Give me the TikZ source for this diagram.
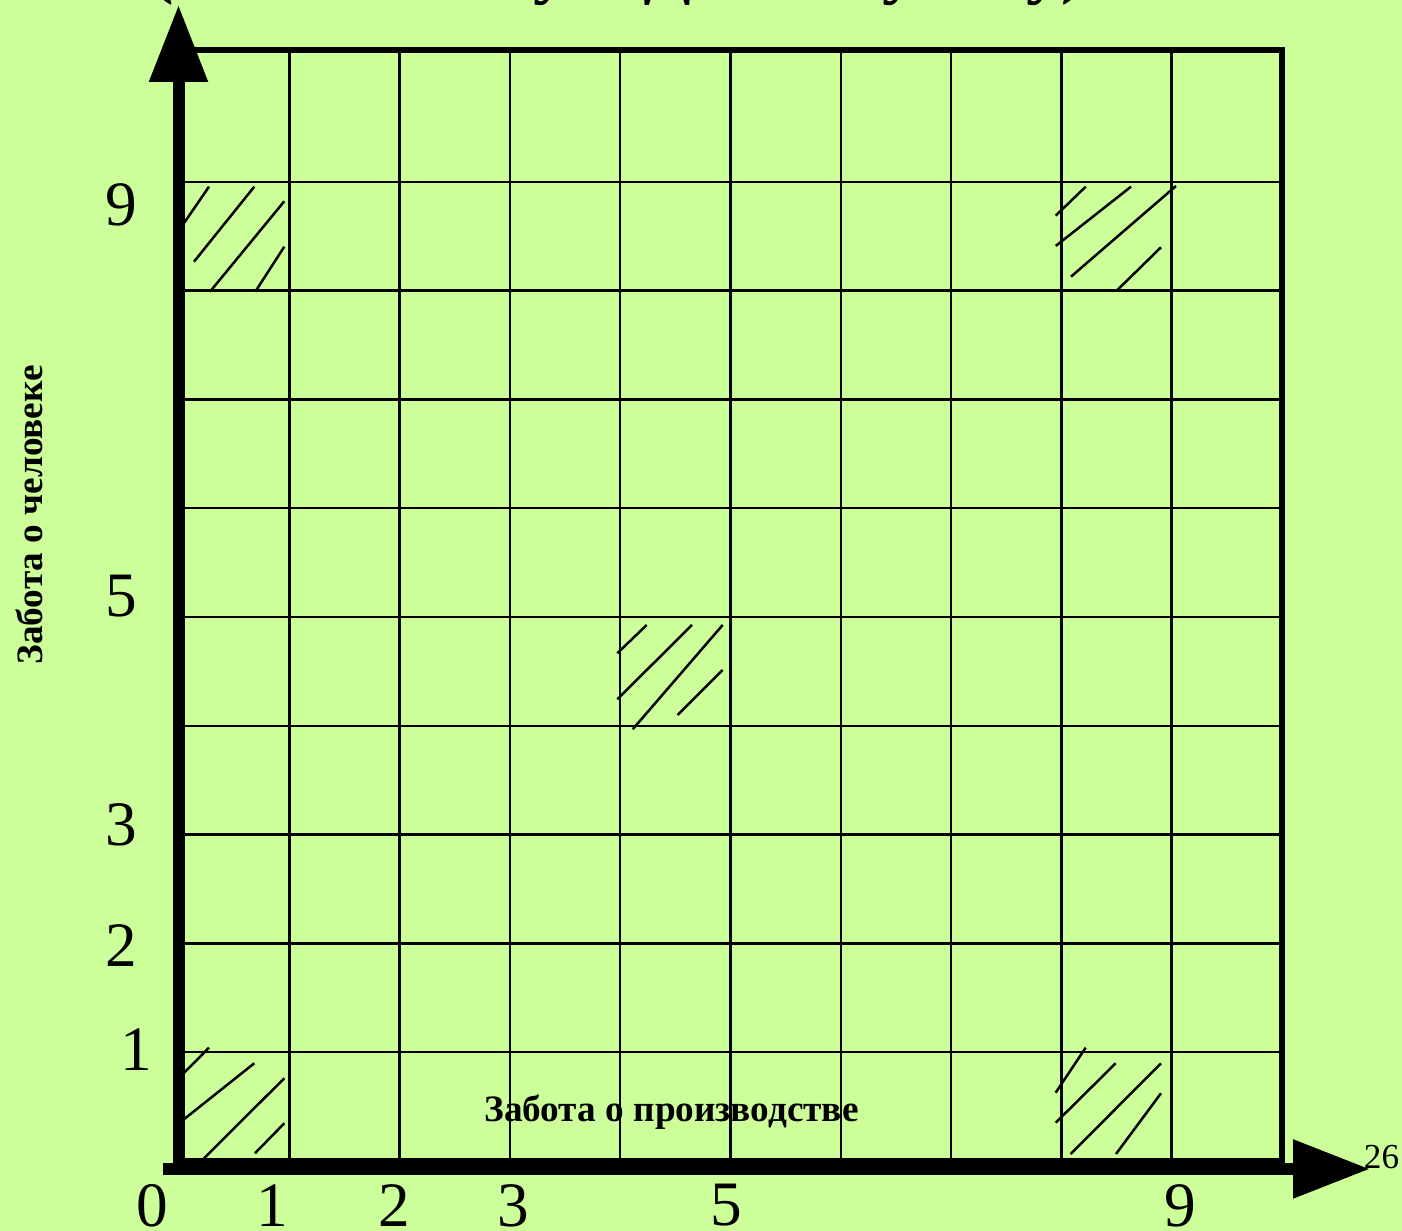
\documentclass[tikz,border=0pt]{standalone}
\usepackage{fontspec}
\setmainfont{Liberation Serif}
\usetikzlibrary{arrows.meta}
\definecolor{fonzel}{RGB}{204,255,153}

\begin{document}
\begin{tikzpicture}[
    setka/.style={line width=0.025cm},
    ramka/.style={line width=0.055cm},
    os/.style={line width=0.12cm, -{Triangle[length=7.7mm, width=5.6mm]}},
    shtrih/.style={line width=0.025cm},
    cifra/.style={inner sep=0pt, font=\fontsize{18}{20}\selectfont},
    podpis/.style={inner sep=0pt, anchor=base, font=\fontsize{10.6}{13}\selectfont\bfseries}
  ]
    \useasboundingbox (0,0) rectangle (14.02,12.31);
    \fill[fonzel] (0,0) rectangle (14.02,12.31);
    % zagolovok (obrezan sverhu)
    \node[podpis, font=\fontsize{20}{24}\selectfont\bfseries] (zag) at (6.18,12.40) {(по Р. Блейку и Дж. Моутону)};
    % setka 10x10
    \foreach \i in {1,...,9}
      \draw[setka] (1.79+\i*1.103,0.70) -- (1.79+\i*1.103,11.81);
    \foreach \j in {1,...,9}
      \draw[setka] (1.79,0.70+\j*1.088) -- (12.82,0.70+\j*1.088);
    \draw[ramka] (1.79,0.70) -- (12.82,0.70) -- (12.82,11.81) -- (1.79,11.81);
    % shtrihovka: 1.1, 9.1, 5.5, 1.9, 9.9
    \foreach \xa/\ya/\xb/\yb in {1.843/10.083/2.09/10.443, 1.94/9.693/2.543/10.443,
        2.10/9.393/2.843/10.297, 2.553/9.393/2.843/9.843,
        10.557/10.153/10.857/10.443, 10.557/9.85/11.31/10.443,
        10.71/9.543/11.76/10.45, 11.167/9.403/11.61/9.837,
        6.173/5.777/6.467/6.06, 6.173/5.317/6.92/6.06,
        6.327/5.017/7.227/6.06, 6.777/5.16/7.227/5.61,
        1.843/1.583/2.09/1.833, 1.843/1.12/2.543/1.677,
        2.04/0.727/2.843/1.527, 2.55/0.777/2.843/1.077,
        10.557/1.383/10.857/1.833, 10.557/1.083/11.157/1.677,
        10.707/0.77/11.61/1.677, 11.16/0.77/11.61/1.377}
      \draw[shtrih] (\xa,\ya) -- (\xb,\yb);
    % osi
    \draw[os] (1.785,0.56) -- (1.785,12.26);
    \draw[os] (1.63,0.62) -- (13.70,0.62);
    % metki po osi y
    \node[cifra] (y9) at (1.215,10.265) {9};
    \node[cifra] (y5) at (1.215,6.345) {5};
    \node[cifra] (y3) at (1.21,4.065) {3};
    \node[cifra] (y2) at (1.21,2.85) {2};
    \node[cifra] (y1) at (1.365,1.81) {1};
    % metki po osi x
    \node[cifra] (x0) at (1.52,0.255) {0};
    \node[cifra] (x1) at (2.72,0.255) {1};
    \node[cifra] (x2) at (3.94,0.255) {2};
    \node[cifra] (x3) at (5.13,0.255) {3};
    \node[cifra] (x5) at (7.26,0.255) {5};
    \node[cifra] (x9) at (11.80,0.255) {9};
    \node[cifra, font=\fontsize{10}{12}\selectfont] (n26) at (13.815,0.74) {26};
    % podpisi osej
    \node[podpis] (proizv) at (6.715,1.09) {Забота о производстве};
    \node[podpis, rotate=90] (chelov) at (0.42,7.16) {Забота о человеке};
  \end{tikzpicture}
\end{document}
